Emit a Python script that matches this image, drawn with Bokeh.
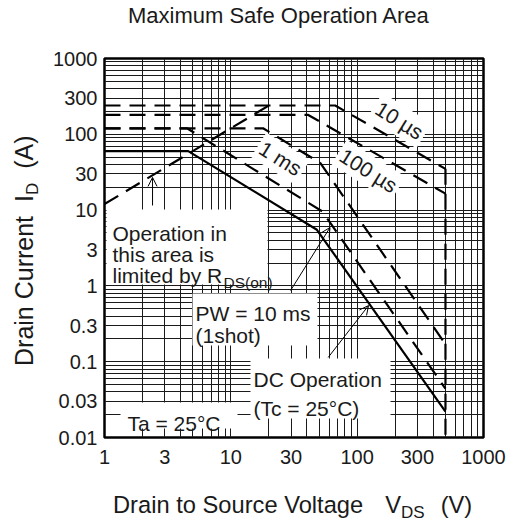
from bokeh.plotting import figure
from bokeh.layouts import column, row
from bokeh.models import (Range1d, FixedTicker, CustomJSTickFormatter, Label,
                          BoxAnnotation, Arrow, OpenHead, Div)
from bokeh.embed import file_html
from bokeh.resources import INLINE

# ---------------- data ----------------
x_ticks = [1, 3, 10, 30, 100, 300, 1000]
x_tick_labels = ["1", "3", "10", "30", "100", "300", "1000"]
y_ticks = [0.01, 0.03, 0.1, 0.3, 1, 3, 10, 30, 100, 300, 1000]
y_tick_labels = ["0.01", "0.03", "0.1", "0.3", "1", "3", "10", "30", "100", "300", "1000"]

dc_vds = [1, 4.6, 48, 500]
dc_id = [60, 60, 5.5, 0.022]
pw10ms_vds = [1, 4.5, 53, 500]
pw10ms_id = [120, 120, 9.6, 0.044]
pw1ms_vds = [1, 18, 51, 500]
pw1ms_id = [120, 120, 42, 0.17]
pw100us_vds = [1, 41, 500]
pw100us_id = [180, 180, 16.5]
pw10us_vds = [1, 67, 500]
pw10us_id = [240, 240, 35]
vdss_vds = [500, 500]
vdss_id = [35, 0.01]
rds_vds = [1, 20]
rds_id = [12, 240]

# arrows: (x_start, y_start, x_end, y_end) in data units
arrow_rds = (2.4, 11.5, 2.4, 27)
arrow_pw = (29.7, 0.87, 61, 5.9)
arrow_dc = (59, 0.114, 123, 0.55)

FONT = "Liberation Sans"
TXT = "#1a1a1a"

x_minor = [m * 10 ** k for k in range(0, 3) for m in (2, 4, 5, 6, 7, 8, 9)]
y_minor = [m * 10 ** k for k in range(-2, 3) for m in (2, 4, 5, 6, 7, 8, 9)]

YLAB_W = 46
TITLE_H = 40
FIG_H = 440

p = figure(width=512 - YLAB_W, height=FIG_H, x_axis_type="log", y_axis_type="log",
           x_range=Range1d(1, 1000), y_range=Range1d(0.01, 1000),
           output_backend="svg", toolbar_location=None,
           min_border_left=104 - YLAB_W, min_border_right=29,
           min_border_top=58 - TITLE_H, min_border_bottom=FIG_H - (58 - TITLE_H) - 379)
p.background_fill_color = "white"
p.border_fill_color = "white"
p.outline_line_color = "black"
p.outline_line_width = 2.5

fmt_code = """
for (let i = 0; i < tv.length; i++) {
  if (Math.abs(Math.log10(tv[i]) - Math.log10(tick)) < 1e-6) return tl[i];
}
return "";
"""

p.xaxis.ticker = FixedTicker(ticks=x_ticks, minor_ticks=x_minor)
p.yaxis.ticker = FixedTicker(ticks=y_ticks, minor_ticks=y_minor)
p.xgrid.ticker = p.xaxis.ticker
p.ygrid.ticker = p.yaxis.ticker
p.xaxis.formatter = CustomJSTickFormatter(args=dict(tv=x_ticks, tl=x_tick_labels), code=fmt_code)
p.yaxis.formatter = CustomJSTickFormatter(args=dict(tv=y_ticks, tl=y_tick_labels), code=fmt_code)

for ax in (p.xaxis, p.yaxis):
    ax.axis_line_color = None
    ax.major_tick_line_color = None
    ax.minor_tick_line_color = None
    ax.major_tick_out = 0
    ax.major_tick_in = 0
    ax.minor_tick_out = 0
    ax.minor_tick_in = 0
    ax.major_label_text_font = FONT
    ax.major_label_text_font_size = "20px"
    ax.major_label_text_color = TXT
p.xaxis.major_label_standoff = 12
p.yaxis.major_label_standoff = 7

for g in (p.xgrid, p.ygrid):
    g.grid_line_color = "#1a1a1a"
    g.grid_line_width = 1
    g.minor_grid_line_color = "#1a1a1a"
    g.minor_grid_line_width = 1

# ---------------- white text boxes (under curves) ----------------
def box(l, r, t, b):
    p.add_layout(BoxAnnotation(left=l, right=r, top=t, bottom=b,
                               left_units="screen", right_units="screen",
                               top_units="screen", bottom_units="screen",
                               fill_color="white", fill_alpha=1.0, line_color=None,
                               level="underlay"))

box(2, 163, 228, 153)     # Operation in ...
box(88, 213, 144, 92)     # PW = 10 ms
box(146, 286, 79, 19)     # DC Operation
box(16, 133, 35, 9)       # Ta = 25°C

# ---------------- curves ----------------
DASH = "16 9"
p.line(dc_vds, dc_id, line_color="black", line_width=2.2)
p.line(pw10ms_vds, pw10ms_id, line_color="black", line_width=2.2, line_dash=DASH)
p.line(pw1ms_vds, pw1ms_id, line_color="black", line_width=2.2, line_dash=DASH)
p.line(pw100us_vds, pw100us_id, line_color="black", line_width=2.2, line_dash=DASH)
p.line(pw10us_vds, pw10us_id, line_color="black", line_width=2.2, line_dash=DASH)
p.line(vdss_vds, vdss_id, line_color="black", line_width=2.2, line_dash=DASH)
p.line(rds_vds, rds_id, line_color="black", line_width=2.2, line_dash=DASH)

for a in (arrow_rds, arrow_pw, arrow_dc):
    p.add_layout(Arrow(end=OpenHead(size=9, line_width=1, line_color="black"),
                       x_start=a[0], y_start=a[1], x_end=a[2], y_end=a[3],
                       line_width=1, line_color="black"))

# ---------------- in-plot texts ----------------
def lab(text, x, y, size, align="left", baseline="alphabetic", angle=0.0, bg=None):
    kw = {}
    if bg:
        kw = dict(background_fill_color=bg, background_fill_alpha=1.0, padding=3)
    p.add_layout(Label(text=text, x=x, y=y, x_units="screen", y_units="screen",
                       text_font=FONT, text_font_size=size, text_color=TXT,
                       text_align=align, text_baseline=baseline, angle=angle, **kw))

lab("Operation in", 8, 204, "21px")
lab("this area is", 8, 183, "21px")
lab("limited by R", 8, 162, "21px")
lab("DS(on)", 119, 155, "15.5px")

lab("PW = 10 ms", 91, 124, "21px")
lab("(1shot)", 91, 102, "21px")

lab("DC Operation", 149, 58, "21px")
lab("(Tc = 25°C)", 149, 29, "21px")

lab("Ta = 25°C", 23, 14, "21px")

rot = -0.56
lab("1 ms", 176, 279, "21px", align="center", baseline="middle", angle=rot, bg="white")
lab("10 µs", 295, 317, "21px", align="center", baseline="middle", angle=rot, bg="white")
lab("100 µs", 264, 267, "21px", align="center", baseline="middle", angle=rot, bg="white")

# ---------------- outer texts (title, axis titles) ----------------
base = f"font-family:'{FONT}';color:{TXT};white-space:nowrap;line-height:1.15;"
sub = "position:relative;top:5px;font-size:17px;"

title_div = Div(width=512, height=TITLE_H, margin=0,
                text=(f'<div style="position:relative;width:512px;height:{TITLE_H}px;">'
                      f'<div style="position:absolute;left:128px;top:3px;{base}font-size:22px;">'
                      'Maximum Safe Operation Area</div></div>'))

ylab_div = Div(width=YLAB_W, height=FIG_H, margin=0,
               text=(f'<div style="position:relative;width:{YLAB_W}px;height:{FIG_H}px;">'
                     f'<div style="position:absolute;left:10px;top:{366 - TITLE_H}px;'
                     f'transform-origin:0 0;transform:rotate(-90deg);{base}font-size:25px;">'
                     'Drain Current<span style="margin-left:14px">I</span>'
                     f'<span style="{sub}">D</span>'
                     '<span style="margin-left:14px">(A)</span></div></div>'))

XLAB_H = 525 - TITLE_H - FIG_H
xlab_div = Div(width=512, height=XLAB_H, margin=0,
               text=(f'<div style="position:relative;width:512px;height:{XLAB_H}px;">'
                     f'<div style="position:absolute;left:113px;top:{514 - (TITLE_H + FIG_H) - 22}px;'
                     f'{base}font-size:23.7px;">'
                     'Drain to Source Voltage<span style="margin-left:22px">V</span>'
                     f'<span style="{sub}">DS</span>'
                     '<span style="margin-left:16px">(V)</span></div></div>'))

layout = column(title_div, row(ylab_div, p, spacing=0), xlab_div, spacing=0)

open("out.html", "w").write(file_html(layout, INLINE))
